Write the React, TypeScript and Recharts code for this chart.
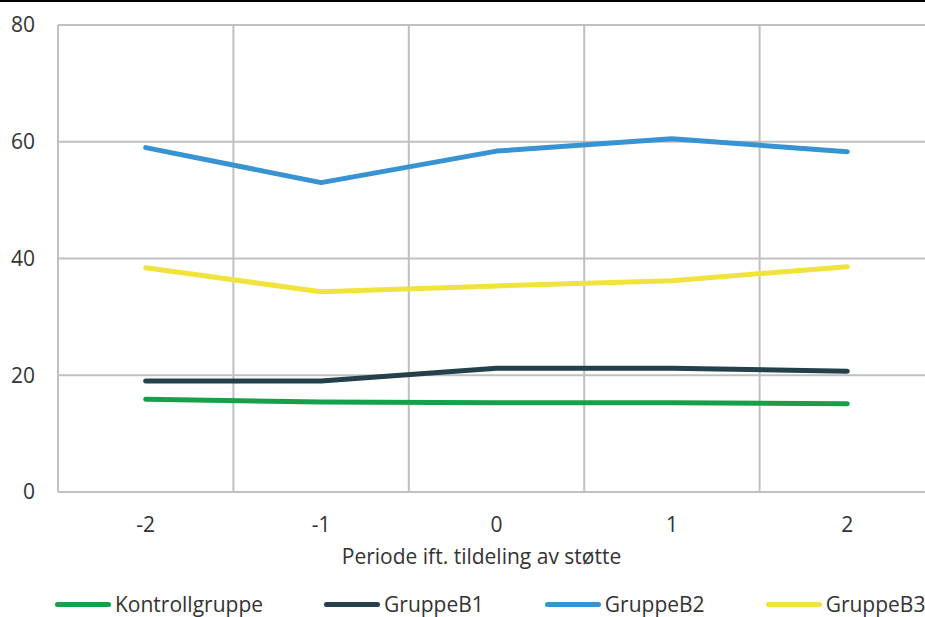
import React from 'react';
import { LineChart, Line, XAxis, YAxis, CartesianGrid, Legend } from 'recharts';

const periods = [-2, -1, 0, 1, 2];
const kontrollgruppe = [15.9, 15.4, 15.3, 15.3, 15.1];
const gruppeB1 = [19.0, 19.0, 21.2, 21.2, 20.7];
const gruppeB2 = [59.0, 53.0, 58.4, 60.5, 58.3];
const gruppeB3 = [38.4, 34.3, 35.3, 36.2, 38.6];
const yTicks = [0, 20, 40, 60, 80];
const gridTicks = [-2.5, -1.5, -0.5, 0.5, 1.5, 2.5];
const axisTitle = 'Periode ift. tildeling av støtte';

const seriesNames = ['Kontrollgruppe', 'GruppeB1', 'GruppeB2', 'GruppeB3'];
const colors = ['#17a04a', '#24404a', '#3893d3', '#f0e33c'];

const data = periods.map((p, i) => ({
  period: p,
  Kontrollgruppe: kontrollgruppe[i],
  GruppeB1: gruppeB1[i],
  GruppeB2: gruppeB2[i],
  GruppeB3: gruppeB3[i],
}));

const FONT = '"Open Sans", "Noto Sans", sans-serif';
const TEXT = '#333333';
const FS = 21;

const LegendContent = () => (
  <div style={{ height: 50, position: 'relative', fontFamily: FONT }}>
    <div style={{ display: 'flex', alignItems: 'center', position: 'absolute', top: 23, left: 55, whiteSpace: 'nowrap' }}>
      {seriesNames.map((n, i) => (
        <div key={n} style={{ display: 'flex', alignItems: 'center', marginRight: 61 }}>
          <div style={{ width: 56, height: 5, borderRadius: 3, background: colors[i], marginRight: 4 }} />
          <span style={{ fontSize: FS, color: TEXT, lineHeight: '28px' }}>{n}</span>
        </div>
      ))}
    </div>
  </div>
);

const AxisTitle = (props: any) => {
  const vb = props.viewBox || {};
  return (
    <text
      x={vb.x + vb.width / 2 - 15}
      y={vb.y + vb.height - 3}
      textAnchor="middle"
      fontSize={FS}
      fill={TEXT}
      fontFamily={FONT}
    >
      {axisTitle}
    </text>
  );
};

export default function App() {
  return (
    <div style={{ position: 'absolute', top: 0, left: 0, width: 925, height: 617, overflow: 'hidden', background: '#fff' }}>
      <LineChart width={940} height={617} data={data} margin={{ top: 25, right: 5, left: 0, bottom: 0 }}>
        <CartesianGrid stroke="#c0c0c0" strokeWidth={2} xAxisId="grid" />
        <XAxis
          xAxisId="grid"
          type="number"
          dataKey="period"
          domain={[-2.5, 2.5]}
          ticks={gridTicks}
          hide
        />
        <XAxis
          type="number"
          dataKey="period"
          domain={[-2.5, 2.5]}
          ticks={periods}
          axisLine={false}
          tickLine={false}
          tickSize={0}
          tickMargin={25}
          height={75}
          tick={{ fontSize: FS, fill: TEXT, fontFamily: FONT }}
          label={{ content: <AxisTitle /> }}
        />
        <YAxis
          domain={[0, 80]}
          ticks={yTicks}
          width={58}
          axisLine={false}
          tickLine={false}
          tickSize={0}
          tickMargin={23}
          tick={{ fontSize: FS, fill: TEXT, fontFamily: FONT }}
        />
        <Legend verticalAlign="bottom" height={50} content={<LegendContent />} />
        {seriesNames.map((n, i) => (
          <Line
            key={n}
            type="linear"
            dataKey={n}
            stroke={colors[i]}
            strokeWidth={5}
            strokeLinecap="round"
            strokeLinejoin="round"
            dot={false}
            activeDot={false}
            isAnimationActive={false}
          />
        ))}
      </LineChart>
      <div style={{ position: 'absolute', top: 0, left: 0, width: 925, height: 2, background: '#000' }} />
    </div>
  );
}
